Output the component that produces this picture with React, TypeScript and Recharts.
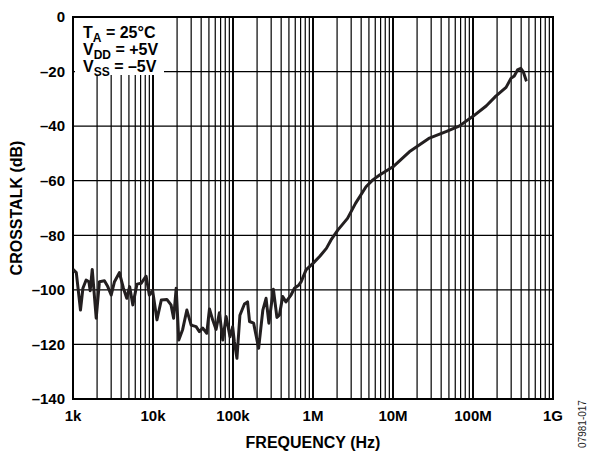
import React from 'react';
import { LineChart, Line, XAxis, YAxis, CartesianGrid, ReferenceArea, ReferenceLine } from 'recharts';

// Frequency (Hz) of each traced point
const frequencyHz = [
  1000, 1100, 1240, 1330, 1460, 1580, 1640, 1740, 1950, 2140, 2470, 2720, 3000, 3300, 3800,
  4270, 4700, 5100, 5600, 6300, 7100, 8200, 9000, 9900, 11200, 12700, 14900, 16800, 18100,
  19500, 21000, 23500, 26500, 30000, 34600, 38000, 41900, 47000, 50800, 55700, 61400, 67600,
  74500, 82000, 91800, 99000, 104000, 112000, 122000, 139000, 152000, 161000, 181000, 209000,
  236000, 259000, 281000, 320000, 354000, 380000, 418000, 459000, 531000, 586000, 667000,
  712000, 819000, 1000000, 1210000, 1470000, 1680000, 2040000, 2700000, 3400000, 4600000,
  5600000, 6800000, 10000000, 16000000, 28000000, 46000000, 67000000, 99000000, 146000000,
  193000000, 259000000, 298000000, 328000000, 360000000, 396000000, 424000000, 460000000, 470000000,
];

// Crosstalk (dB) at each frequency
const crosstalkDb = [
  -92.5, -93.7, -107.4, -99.4, -96.4, -97, -100.3, -92.5, -110.4, -97, -96.7, -98.8, -101.9, -97, -93.7,
  -99.4, -103.1, -98.8, -105.5, -97.9, -97.6, -95, -101.9, -100.3, -111, -103.7, -103.5, -105.5, -110.4,
  -99.4, -118.4, -114.5, -107.4, -112.9, -113.5, -115.3, -114, -115.9, -107, -111, -114.5, -108.4,
  -118.4, -109.8, -117.2, -113.5, -119, -125.1, -109.3, -105.2, -104.4, -111.6, -112.2, -121.4,
  -107.4, -103.1, -112.2, -99.8, -110.1, -109.3, -102.4, -104.4, -101.9, -99.4, -98.2,
  -97, -92.7, -90.3, -87.8, -84.8, -81.7, -78.1, -73.8, -68.3, -62.2,
  -59.7, -57.9, -54.9, -49.4, -44.5, -42, -40, -36.5, -32.6,
  -29, -25.8, -22.5, -21.6, -19.4, -18.8, -20, -23.1, -23.5,
];

const decadeTicks = [1e3, 1e4, 1e5, 1e6, 1e7, 1e8, 1e9];
const decadeLabels = ['1k', '10k', '100k', '1M', '10M', '100M', '1G'];
const yTicks = [-140, -120, -100, -80, -60, -40, -20, 0];
const yTickLabels = ['–140', '–120', '–100', '–80', '–60', '–40', '–20', '0'];

const data = frequencyHz.map((f, i) => ({ f, db: crosstalkDb[i] }));

const xTicks: number[] = [];
decadeTicks.forEach((d, i) => {
  if (i === decadeTicks.length - 1) {
    xTicks.push(d);
  } else {
    for (let m = 1; m <= 9; m++) xTicks.push(d * m);
  }
});

const FONT = '"Liberation Sans", Arial, Helvetica, sans-serif';

const fmtX = (v: number) => {
  const idx = decadeTicks.findIndex((d) => Math.abs(d - v) / d < 1e-6);
  return idx >= 0 ? decadeLabels[idx] : '';
};
const fmtY = (v: number) => {
  const idx = yTicks.indexOf(v);
  return idx >= 0 ? yTickLabels[idx] : String(v);
};

const sub: React.CSSProperties = { fontSize: 12, position: 'relative', top: 4 };

export default function App() {
  return (
    <div style={{ position: 'absolute', left: 0, top: 0, width: 591, height: 454, background: '#fff', fontFamily: FONT }}>
      <LineChart width={591} height={454} data={data} margin={{ top: 17, right: 38, bottom: 0, left: 0 }}>
        <CartesianGrid stroke="#000" strokeWidth={1.2} horizontal vertical />
        <XAxis
          dataKey="f"
          type="number"
          scale="log"
          domain={[1000, 1e9]}
          allowDataOverflow
          ticks={xTicks}
          interval={0}
          tickFormatter={fmtX}
          axisLine={false}
          tickLine={false}
          tickSize={6}
          tickMargin={5}
          height={55}
          tick={{ fill: '#000', fontSize: 15, fontWeight: 'bold', fontFamily: FONT }}
          label={(p: any) => (
            <text x={313} y={448} textAnchor="middle" fill="#000" fontSize={16} fontWeight="bold" fontFamily={FONT}>
              FREQUENCY (Hz)
            </text>
          )}
        />
        <YAxis
          type="number"
          domain={[-140, 0]}
          ticks={yTicks}
          interval={0}
          tickFormatter={fmtY}
          axisLine={false}
          tickLine={false}
          tickSize={6}
          tickMargin={2}
          width={73}
          tick={{ fill: '#000', fontSize: 15, fontWeight: 'bold', fontFamily: FONT }}
          label={(p: any) => (
            <text
              x={22}
              y={208}
              transform="rotate(-90, 22, 208)"
              textAnchor="middle"
              fill="#000"
              fontSize={16}
              fontWeight="bold"
              fontFamily={FONT}
            >
              CROSSTALK (dB)
            </text>
          )}
        />
        {decadeTicks.slice(1, -1).map((d) => (
          <ReferenceLine key={d} x={d} stroke="#000" strokeWidth={1.9} />
        ))}
        <ReferenceArea x1={1000} x2={1e9} y1={-140} y2={0} fill="none" stroke="#000" strokeWidth={2} ifOverflow="visible" />
        <Line
          type="linear"
          dataKey="db"
          stroke="#231f20"
          strokeWidth={3}
          dot={false}
          isAnimationActive={false}
          strokeLinejoin="round"
        />
      </LineChart>
      <div
        style={{
          position: 'absolute',
          left: 75,
          top: 18,
          width: 89,
          height: 57,
          background: '#fff',
          fontSize: 16,
          fontWeight: 'bold',
          lineHeight: '15px',
          color: '#000',
          paddingLeft: 8,
          paddingTop: 7,
          boxSizing: 'border-box',
          whiteSpace: 'nowrap',
        }}
      >
        <div>T<span style={sub}>A</span> = 25°C</div>
        <div>V<span style={sub}>DD</span> = +5V</div>
        <div>V<span style={sub}>SS</span> = –5V</div>
      </div>
      <div
        style={{
          position: 'absolute',
          left: 583,
          top: 424,
          transform: 'translate(-50%, -50%) rotate(-90deg)',
          fontSize: 10,
          lineHeight: '12px',
          color: '#222',
          whiteSpace: 'nowrap',
        }}
      >
        07981-017
      </div>
    </div>
  );
}
